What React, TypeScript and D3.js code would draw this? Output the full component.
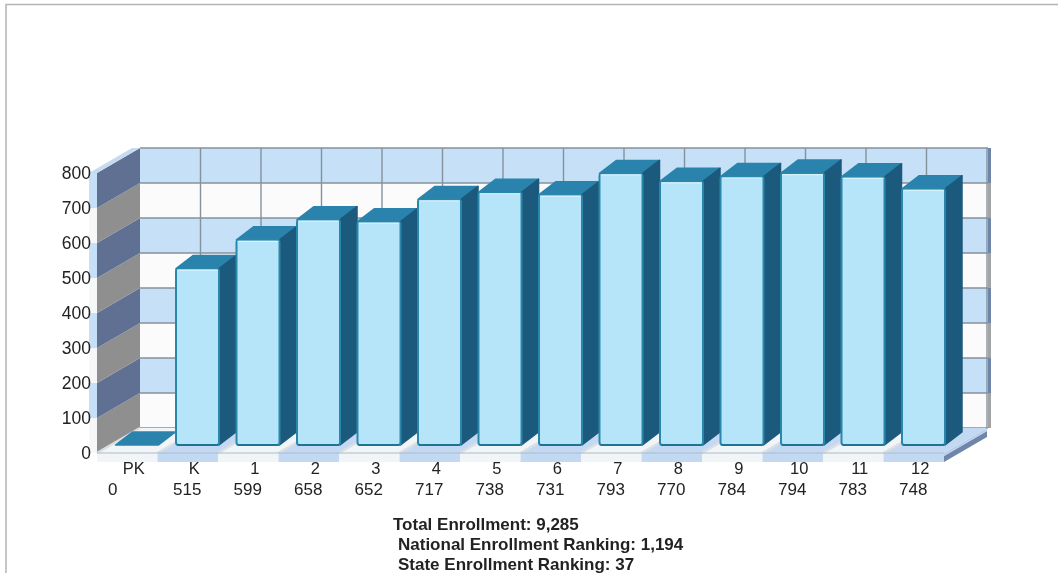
import React from "react";
import * as d3 from "d3";

const grades = ["PK", "K", "1", "2", "3", "4", "5", "6", "7", "8", "9", "10", "11", "12"];
const enrollment = [0, 515, 599, 658, 652, 717, 738, 731, 793, 770, 784, 794, 783, 748];
const yTicks = [0, 100, 200, 300, 400, 500, 600, 700, 800];
const summary = ["Total Enrollment: 9,285", "National Enrollment Ranking: 1,194", "State Enrollment Ranking: 37"];

const W = 1058, H = 573;
const DX = 43, DY = -25;
const x = d3.scaleBand<string>().domain(grades).range([97, 944]);
const y = d3.scaleLinear().domain([0, 800]).range([453, 173]);
const barY = d3.scaleLinear().domain([0, 800]).range([445, 171]);
const step = x.step();
const BAR_W = 43, BDX = 17, BDY = -13;
const BLUE = "#c6e0f7", WHITE = "#fbfbfb";
const poly = (p: number[][]) => "M" + p.map(q => q.join(",")).join("L") + "Z";

export default function App() {
  const bands = yTicks.slice(0, -1);
  const x0 = x.range()[0], x1 = x.range()[1];
  return (
    <svg width={W} height={H} style={{ position: "absolute", left: 0, top: 0, fontFamily: "'Liberation Sans', Arial, sans-serif" }}>
      <defs>
        <filter id="soft" x="-2%" y="-2%" width="104%" height="104%"><feGaussianBlur stdDeviation="0.45" /></filter>
      </defs>
      <rect width={W} height={H} fill="#fff" />
      <path d={`M6,${H}V4.5H${W}`} fill="none" stroke="#b4b4b4" strokeWidth={1.5} />
      <g filter="url(#soft)">
        {/* back wall */}
        {bands.map((t, i) => (
          <rect key={t} x={x0 + DX} width={x1 - x0 + 1} y={y(t + 100) + DY} height={y(t) - y(t + 100)}
            fill={i % 2 ? BLUE : WHITE} />
        ))}
        {bands.map((t, i) => (
          <rect key={t} x={x1 + DX + 1} width={3} y={y(t + 100) + DY} height={y(t) - y(t + 100)}
            fill={i % 2 ? "#6f86a8" : "#a3a3a3"} />
        ))}
        {yTicks.map(t => (
          <line key={t} x1={x0 + DX} x2={x1 + DX + 1} y1={y(t) + DY} y2={y(t) + DY} stroke="#84929e" strokeWidth={1.4} />
        ))}
        {grades.map(g => (
          <line key={g} x1={x(g)! + step + DX} x2={x(g)! + step + DX} y1={y(800) + DY} y2={y(0) + DY} stroke="#84929e" strokeWidth={1.4} />
        ))}
        {/* left wall */}
        {bands.map((t, i) => (
          <path key={t} fill={i % 2 ? "#5e7092" : "#8f8f8f"}
            d={poly([[x0, y(t)], [x0 + DX, y(t) + DY], [x0 + DX, y(t + 100) + DY], [x0, y(t + 100)]])} />
        ))}
        {bands.map((t, i) => (
          <rect key={t} x={x0 - 8} width={8} y={y(t + 100)} height={y(t) - y(t + 100)} fill={i % 2 ? BLUE : "#f6f7f9"} />
        ))}
        <path d={poly([[x0 - 8, y(800)], [x0 + DX - 8, y(800) + DY], [x0 + DX, y(800) + DY], [x0, y(800)]])} fill="#c6daf0" />
        {/* floor */}
        {grades.map((g, i) => {
          const a = x(g)!, b = a + step;
          const c = i % 2 ? "#c3d9f3" : "#f2f5f8";
          return (
            <g key={g}>
              <path d={poly([[a, y(0)], [b, y(0)], [b + DX, y(0) + DY], [a + DX, y(0) + DY]])} fill={c} />
              <rect x={a} width={step} y={y(0)} height={9} fill={c} />
            </g>
          );
        })}
        {grades.map(g => (
          <line key={g} x1={x(g)!} y1={y(0)} x2={x(g)! + DX} y2={y(0) + DY} stroke="#dcdfe3" strokeWidth={2.5} />
        ))}
        <line x1={x0} x2={x1} y1={y(0)} y2={y(0)} stroke="#a9bcc4" strokeWidth={1} />
        <path d={poly([[x1, y(0) + 9], [x1 + DX, y(0) + DY + 9], [x1 + DX, y(0) + DY + 3], [x1, y(0) + 3]])} fill="#6f86a8" />
        <path d={poly([[x1, y(0)], [x1 + DX, y(0) + DY], [x1 + DX, y(0) + DY + 3], [x1, y(0) + 3]])} fill="#b9cfee" />
        {/* bars */}
        {grades.map((g, i) => {
          const left = x(g)! + 18.5, right = left + BAR_W;
          const base = barY(0), top = barY(enrollment[i]);
          const solid = enrollment[i] > 0;
          return (
            <g key={g}>
              <path fill="#2a83ad" stroke="#2a83ad" strokeWidth={1.5} strokeLinejoin="round"
                d={poly([[left, top], [right, top], [right + BDX, top + BDY], [left + BDX, top + BDY]])} />
              {solid && (
                <>
                  <path fill="#1e5a7d" stroke="#1e5a7d" strokeWidth={1.5} strokeLinejoin="round"
                    d={poly([[right, top], [right + BDX, top + BDY], [right + BDX, base + BDY], [right, base]])} />
                  <rect x={left} y={top} width={BAR_W} height={base - top} rx={2.5} fill="#b6e5fa" stroke="#2a87ac" strokeWidth={2} />
                  <line x1={left + 1} x2={right - 1} y1={top + 1.5} y2={top + 1.5} stroke="#d8f2fc" strokeWidth={1.2} />
                  <line x1={left + 1} x2={right - 1} y1={base} y2={base} stroke="#1d6f8c" strokeWidth={1.5} />
                </>
              )}
            </g>
          );
        })}
        {/* labels */}
        <g fontSize={17.5} fill="#222">
          {yTicks.map(t => (
            <text key={t} x={91} y={y(t)} dy="0.35em" textAnchor="end">{t}</text>
          ))}
          {grades.map(g => (
            <text key={g} x={x(g)! + step / 2 + 6.5} y={474} textAnchor="middle" fontSize={16.5}>{g}</text>
          ))}
          {grades.map((g, i) => (
            <text key={g} x={i === 0 ? 108 : x(g)! + 15.5} y={495} fontSize={17}>{enrollment[i]}</text>
          ))}
        </g>
        <g fontSize={17} fontWeight={700} fill="#222">
          {summary.map((s, i) => (
            <text key={s} x={i === 0 ? 393 : 398} y={[530, 550, 570][i]}>{s}</text>
          ))}
        </g>
      </g>
    </svg>
  );
}
